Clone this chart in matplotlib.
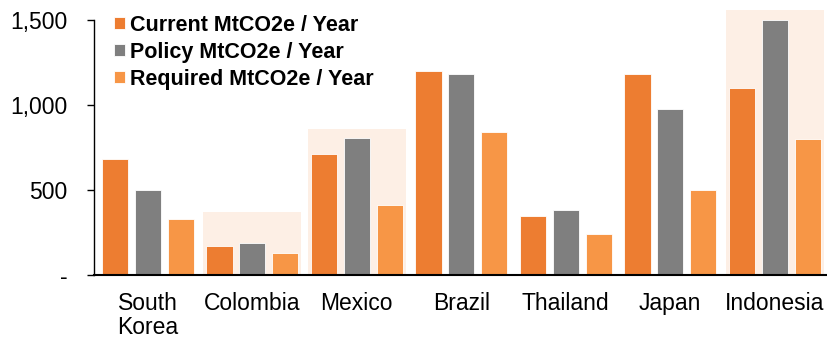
import numpy as np
import matplotlib.pyplot as plt
from matplotlib.patches import Rectangle

countries = ["South\nKorea", "Colombia", "Mexico", "Brazil", "Thailand", "Japan", "Indonesia"]
current = [680, 170, 710, 1200, 350, 1180, 1100]
policy = [500, 190, 805, 1180, 380, 975, 1500]
required = [330, 130, 410, 840, 240, 500, 800]
# shaded backdrops: country index and box height
highlight_idx = [1, 2, 6]
highlight_top = [370, 860, 1560]

plt.rcParams['font.family'] = ['Liberation Sans', 'DejaVu Sans']

fig = plt.figure(figsize=(8.27, 3.4), dpi=100)
ax = fig.add_axes([94 / 827, 65 / 340, 733 / 827, 255 / 340])

x = np.arange(len(countries))
w = 0.25
off = 0.314

for i, top in zip(highlight_idx, highlight_top):
    ax.add_patch(Rectangle((i - 0.47, 0), 0.94, top, facecolor="#FDEFE5",
                           edgecolor="none", zorder=0, clip_on=False))

ax.bar(x - off, current, w, color="#ED7D31", edgecolor="white", linewidth=0.6,
       label="Current MtCO2e / Year", zorder=2)
ax.bar(x, policy, w, color="#7F7F7F", edgecolor="white", linewidth=0.6,
       label="Policy MtCO2e / Year", zorder=2)
ax.bar(x + off, required, w, color="#F79646", edgecolor="white", linewidth=0.6,
       label="Required MtCO2e / Year", zorder=2)

ax.set_xlim(-0.515, 6.5)
ax.set_ylim(0, 1500)
ax.set_yticks([0, 500, 1000, 1500])
ax.set_yticklabels(["-", "500", "1,000", "1,500"])
ax.set_xticks(x)
ax.set_xticklabels(countries, linespacing=1.1)
ax.tick_params(axis="x", length=0, pad=12, labelsize=16.5)
ax.tick_params(axis="y", length=5, width=1, pad=14, labelsize=16.5)

for s in ["top", "right"]:
    ax.spines[s].set_visible(False)
ax.spines["left"].set_linewidth(1)
ax.spines["bottom"].set_linewidth(1.5)
ax.spines["bottom"].set_zorder(3)

leg = ax.legend(loc="upper left", bbox_to_anchor=(0.027, 1.02), frameon=False,
                prop={"weight": "bold", "size": 15.5}, handlelength=0.5,
                handleheight=0.5, handletextpad=0.25, labelspacing=0.28,
                borderaxespad=0, borderpad=0)

fig.savefig("out.png", dpi=100)
